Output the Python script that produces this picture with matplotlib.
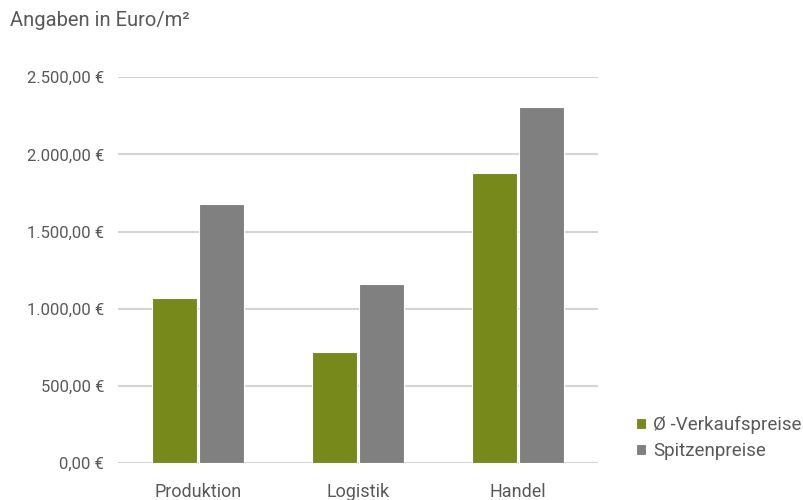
import numpy as np
import matplotlib.pyplot as plt
from matplotlib.ticker import FuncFormatter

# Preise je Nutzungsart in Euro/m²
kategorien = ['Produktion', 'Logistik', 'Handel']
verkaufspreise = [1070, 720, 1880]   # Ø-Verkaufspreise
spitzenpreise = [1680, 1160, 2305]   # Spitzenpreise

plt.rcParams['font.family'] = ['Roboto', 'DejaVu Sans']
textfarbe = '#595959'

fig = plt.figure(figsize=(8.04, 5.0), dpi=100)
ax = fig.add_axes([0.1468, 0.0734, 0.597, 0.772])

x = np.arange(len(kategorien))
b = 0.28
ax.bar(x - b/2 - 0.006, verkaufspreise, width=b, color='#76891a', edgecolor='white',
       linewidth=0.8, label='Ø -Verkaufspreise', zorder=3)
ax.bar(x + b/2 + 0.006, spitzenpreise, width=b, color='#808080', edgecolor='white',
       linewidth=0.8, label='Spitzenpreise', zorder=3)

ax.set_xlim(-0.5, 2.5)
ax.set_ylim(0, 2500)
ax.set_yticks(np.arange(0, 2501, 500))

# deutsches Zahlenformat mit Euro-Zeichen
def euro(v, pos):
    s = f'{v:,.2f}'.replace(',', 'X').replace('.', ',').replace('X', '.')
    return s + ' €'
ax.yaxis.set_major_formatter(FuncFormatter(euro))

ax.set_xticks(x)
ax.set_xticklabels(kategorien)
ax.grid(axis='y', color='#d4d4d4', linewidth=1.5, zorder=0)
for s in ax.spines.values():
    s.set_visible(False)
ax.tick_params(length=0, colors=textfarbe)
ax.tick_params(axis='y', pad=10, labelsize=12)
ax.tick_params(axis='x', pad=14, labelsize=13)

fig.text(0.0124, 0.958, 'Angaben in Euro/m²', fontsize=14.5, color=textfarbe, va='center')

leg = fig.legend(loc='center left', bbox_to_anchor=(0.77, 0.124), frameon=False,
                 fontsize=13.5, handlelength=0.55, handleheight=0.55, handletextpad=0.35,
                 labelspacing=0.45)
for t in leg.get_texts():
    t.set_color(textfarbe)

fig.savefig('out.png', dpi=100)
